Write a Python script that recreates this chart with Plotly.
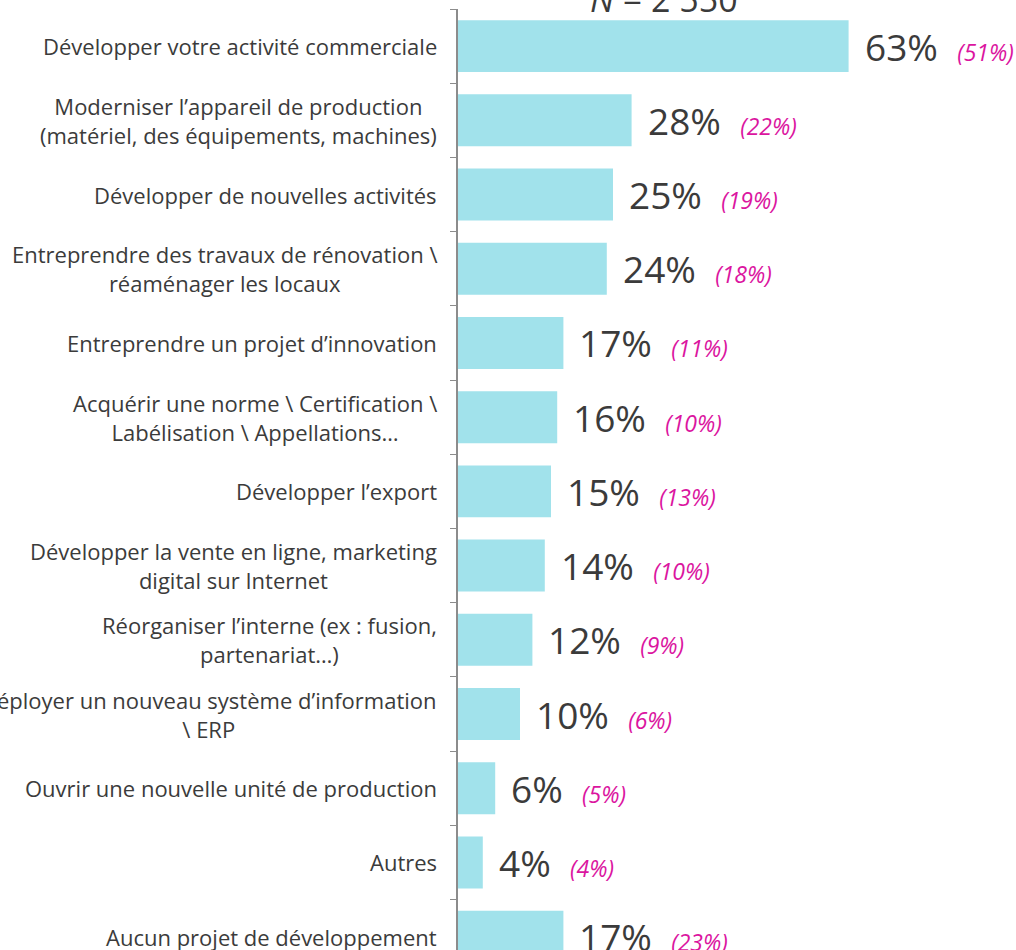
"""
Projets de développement envisagés — part des entreprises (vs année précédente).
"""

import plotly.graph_objects as go

categories = [
    "Développer votre activité commerciale",
    "Moderniser l’appareil de production<br>(matériel, des équipements, machines)",
    "Développer de nouvelles activités",
    "Entreprendre des travaux de rénovation \\<br>réaménager les locaux",
    "Entreprendre un projet d’innovation",
    "Acquérir une norme \\ Certification \\<br>Labélisation \\ Appellations…",
    "Développer l’export",
    "Développer la vente en ligne, marketing<br>digital sur Internet",
    "Réorganiser l’interne (ex : fusion,<br>partenariat…)",
    "Déployer un nouveau système d’information<br>\\ ERP",
    "Ouvrir une nouvelle unité de production",
    "Autres",
    "Aucun projet de développement",
]
current = [63, 28, 25, 24, 17, 16, 15, 14, 12, 10, 6, 4, 17]
previous = [51, 22, 19, 18, 11, 10, 13, 10, 9, 6, 5, 4, 23]
n_label = "<i>N</i> = 2 550"

BAR = "#a1e2eb"
TEXT = "#3b3b3b"
MAGENTA = "#db159f"
FONT = "Open Sans"

fig = go.Figure()
fig.add_trace(
    go.Bar(
        x=current,
        y=categories,
        orientation="h",
        marker_color=BAR,
        marker_line_width=0,
        hoverinfo="skip",
    )
)

# category labels, centred line by line, right-aligned against the axis
for cat in categories:
    fig.add_annotation(
        x=0, xref="paper", y=cat, yref="y",
        text=cat, showarrow=False,
        xanchor="right", yanchor="middle", align="center", xshift=-19,
        font=dict(family=FONT, size=22, color=TEXT),
    )

# value + previous value in brackets
for cat, cur, prev in zip(categories, current, previous):
    fig.add_annotation(
        x=cur, y=cat,
        text=(
            f"{cur}%\u00a0\u00a0"
            f"<span style='font-size:23px;color:{MAGENTA}'><i>({prev}%)</i></span>"
        ),
        showarrow=False, xanchor="left", yanchor="middle", xshift=14,
        font=dict(family=FONT, size=37, color=TEXT),
    )

fig.add_annotation(
    x=0.37, xref="paper", y=1, yref="paper",
    text=n_label, showarrow=False, xanchor="center", yanchor="bottom", yshift=-15,
    font=dict(family=FONT, size=34, color=TEXT),
)

fig.update_layout(
    width=1016,
    height=950,
    margin=dict(l=458, r=0, t=9, b=0),
    plot_bgcolor="white",
    paper_bgcolor="white",
    showlegend=False,
    bargap=0.3,
)
fig.update_xaxes(range=[0, 90], visible=False)
fig.update_yaxes(
    range=[12.18, -0.5],
    showticklabels=False,
    showline=True, linecolor="#8c8c8c", linewidth=1.5,
    ticks="outside", tickson="boundaries", ticklen=6, tickcolor="#8c8c8c",
    showgrid=False, zeroline=False,
)

fig.write_html(
    "out.html",
    config={"displayModeBar": False},
    post_script="document.body.style.margin='0';document.body.style.overflow='hidden';",
)
